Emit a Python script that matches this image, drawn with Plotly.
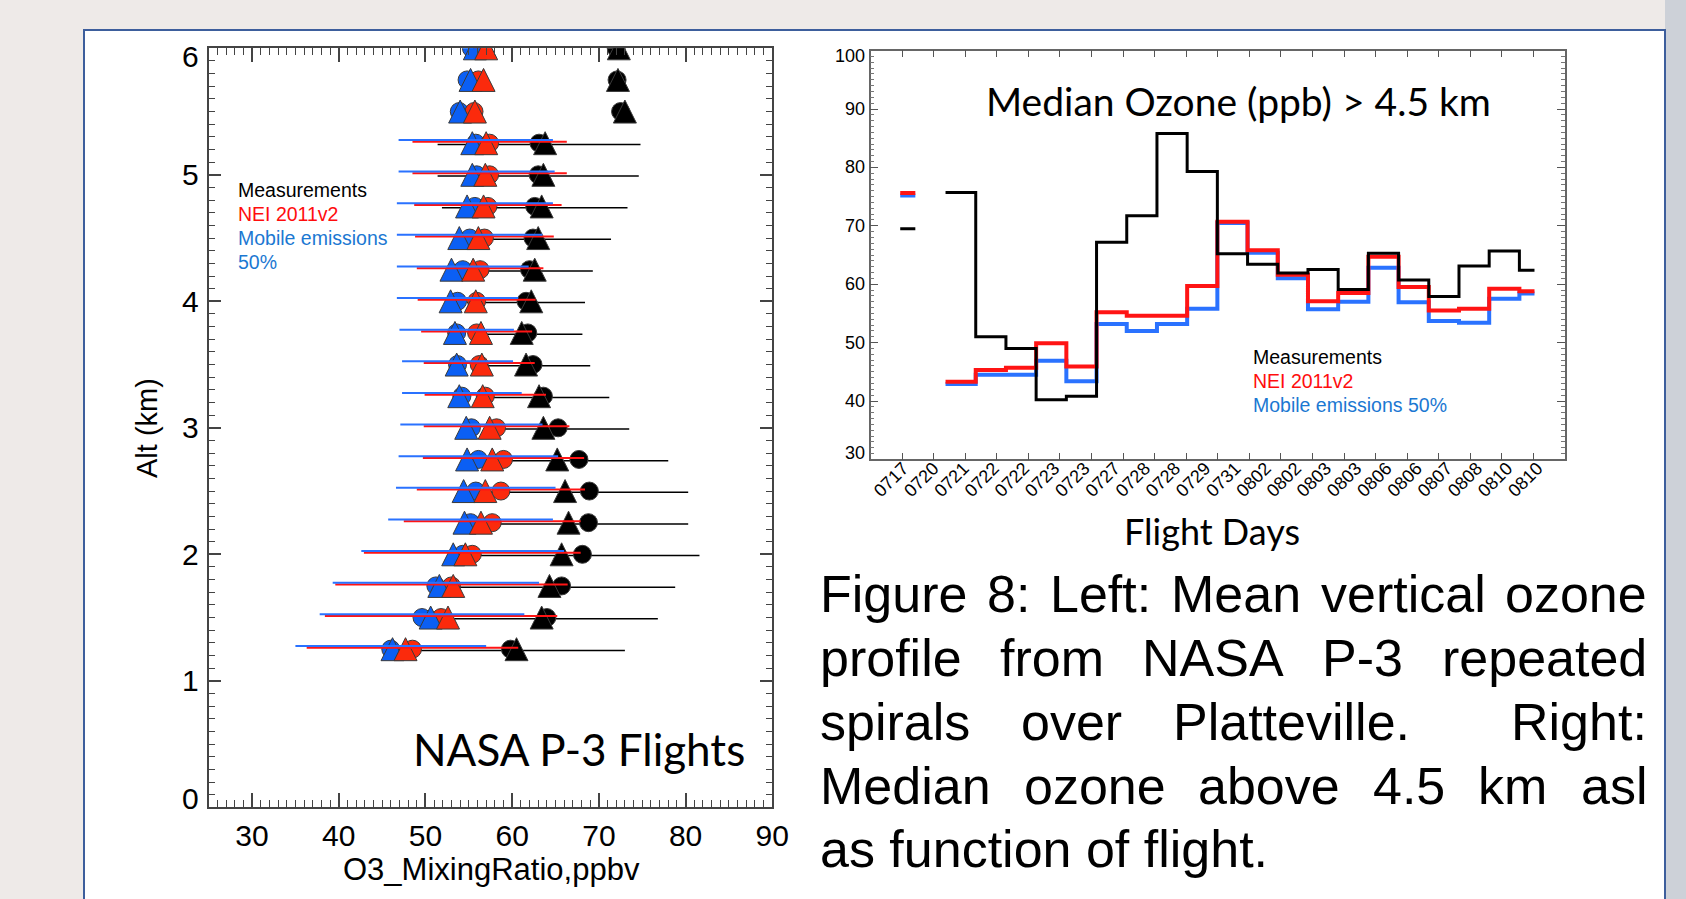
import re
import plotly.graph_objects as go

W, H = 1686, 899


def fx(p):
    return p / W


def fy(p):
    return 1 - p / H


HELV = "Liberation Sans, Arial, Helvetica, sans-serif"
CALI = "Lato, Carlito, Calibri, sans-serif"

# ---------------- Left panel data: mean vertical ozone profile ----------------
altitude_km = [6.0, 5.75, 5.5, 5.25, 5.0, 4.75, 4.5, 4.25, 4.0, 3.75,
               3.5, 3.25, 3.0, 2.75, 2.5, 2.25, 2.0, 1.75, 1.5, 1.25]
meas_mean = [72.0, 72.1, 72.5, 63.1, 63.0, 62.6, 62.4, 62.0, 61.6, 61.8,
             62.4, 63.6, 65.3, 67.7, 68.9, 68.8, 68.1, 65.7, 64.0, 59.8]
meas_median = [72.3, 72.2, 73.0, 63.8, 63.6, 63.4, 63.0, 62.6, 62.2, 61.1,
               61.6, 63.1, 63.6, 65.2, 66.1, 66.5, 65.7, 64.3, 63.4, 60.5]
meas_std = [None, None, None, 11.7, 11.6, 10.7, 9.0, 7.3, 6.8, 6.3,
            6.6, 7.6, 8.2, 10.3, 11.4, 11.5, 13.5, 13.1, 12.8, 13.2]
nei_mean = [56.6, 56.1, 55.6, 57.4, 57.4, 57.2, 56.8, 56.3, 55.9, 55.9,
            56.2, 56.9, 58.2, 59.0, 58.7, 57.7, 55.4, 53.0, 51.8, 48.5]
nei_median = [57.0, 56.7, 55.7, 57.0, 56.9, 56.7, 56.1, 55.5, 55.8, 56.4,
              56.5, 56.6, 57.4, 57.7, 56.9, 56.4, 54.6, 53.2, 52.6, 47.7]
nei_std = [None, None, None, 8.9, 8.9, 8.5, 8.0, 7.3, 6.8, 6.4,
           6.4, 7.0, 8.4, 9.3, 9.7, 10.2, 12.5, 13.4, 13.4, 12.2]
mob_mean = [55.3, 54.8, 53.9, 55.8, 55.9, 55.7, 55.1, 54.3, 53.7, 53.6,
            53.7, 54.2, 55.3, 56.1, 55.8, 55.2, 54.3, 51.2, 49.6, 46.0]
mob_median = [55.7, 55.2, 54.0, 55.4, 55.4, 54.8, 53.9, 53.0, 52.9, 53.4,
              53.6, 53.9, 54.7, 54.8, 54.4, 54.5, 53.2, 51.6, 50.6, 46.2]
mob_std = [None, None, None, 8.9, 9.0, 9.0, 8.4, 7.6, 7.0, 6.6,
           6.4, 6.9, 8.2, 9.2, 9.2, 9.5, 11.7, 11.9, 11.8, 11.0]

left_xticks = [30, 40, 50, 60, 70, 80, 90]
left_yticks = [0, 1, 2, 3, 4, 5, 6]

# ---------------- Right panel data: median ozone above 4.5 km ----------------
flight_days = ["0717", "0720", "0721", "0722", "0722", "0723", "0723", "0727",
               "0728", "0728", "0729", "0731", "0802", "0802", "0803", "0803",
               "0806", "0806", "0807", "0808", "0810", "0810"]
meas_o3 = [69.5, None, 75.7, 51.0, 49.0, 40.2, 40.8, 67.2, 71.7, 85.8, 79.3,
           65.2, 63.4, 61.9, 62.5, 59.1, 65.3, 60.7, 57.9, 63.1, 65.7, 62.4]
nei_o3 = [75.6, None, 43.3, 45.3, 45.7, 49.9, 45.9, 55.2, 54.6, 54.6, 59.7,
          70.7, 65.8, 61.6, 57.1, 58.5, 64.7, 59.5, 55.5, 55.8, 59.2, 58.8]
mob_o3 = [75.2, None, 42.9, 44.5, 44.5, 46.9, 43.4, 53.2, 52.0, 53.2, 55.8,
          70.5, 65.4, 61.0, 55.7, 57.0, 62.8, 56.9, 53.7, 53.4, 57.5, 58.4]
right_yticks = [30, 40, 50, 60, 70, 80, 90, 100]

# ---------------- colours / styles ----------------
RED = "#fb2a0c"
BLUE = "#0b5ff4"
RED_LINE = "#ff1414"
BLUE_LINE = "#2a72ff"
LEG_BLUE = "#1b78d2"

# layout geometry (pixels)
L_X0, L_X1, L_Y0, L_Y1 = 208.7, 772.3, 48.3, 807.3
R_X0, R_X1, R_Y0, R_Y1 = 870.6, 1565.0, 50.6, 459.4
PX_PER_KM = (L_Y1 - L_Y0) / 6.0
TRI = 23
CIRC = 18
tri_lift = (TRI / 2.0) / PX_PER_KM

fig = go.Figure()


def hbars(mean, std, alt, dy):
    xs, ys = [], []
    for m, s, a in zip(mean, std, alt):
        if s is None:
            continue
        xs += [m - s, m + s, None]
        ys += [a + dy, a + dy, None]
    return xs, ys


def add_bar(mean, std, color, dy, width):
    xs, ys = hbars(mean, std, altitude_km, dy)
    fig.add_trace(go.Scatter(x=xs, y=ys, mode="lines", line=dict(color=color, width=width),
                             xaxis="x", yaxis="y", showlegend=False, hoverinfo="skip"))


# black bars under markers
add_bar(meas_mean, meas_std, "#000000", -0.01, 1.6)

# circles (mean)
for vals, col in [(mob_mean, BLUE), (nei_mean, RED), (meas_mean, "#000000")]:
    fig.add_trace(go.Scatter(x=vals, y=altitude_km, mode="markers",
                             marker=dict(symbol="circle", size=CIRC, color=col,
                                         line=dict(color="#3a3a3a", width=1)),
                             xaxis="x", yaxis="y", showlegend=False))
# triangles (median)
for vals, col in [(mob_median, BLUE), (nei_median, RED), (meas_median, "#000000")]:
    fig.add_trace(go.Scatter(x=vals, y=[a + tri_lift for a in altitude_km], mode="markers",
                             marker=dict(symbol="arrow-up", size=TRI, color=col,
                                         line=dict(color="#3a3a3a", width=1)),
                             xaxis="x", yaxis="y", showlegend=False))

add_bar(nei_mean, nei_std, RED_LINE, 0.012, 2)
add_bar(mob_mean, mob_std, BLUE_LINE, 0.026, 2)


# ---------------- right panel: histogram-style steps ----------------
def steps(vals):
    n = len(vals)
    xs, ys = [], []
    for i, v in enumerate(vals):
        if v is None:
            xs.append(None)
            ys.append(None)
            continue
        left = i - 0.5 if i > 0 else i
        right = i + 0.5 if i < n - 1 else i
        xs += [left, right]
        ys += [v, v]
    return xs, ys


for vals, col, w in [(mob_o3, BLUE_LINE, 4), (nei_o3, RED_LINE, 4), (meas_o3, "#000000", 3)]:
    xs, ys = steps(vals)
    fig.add_trace(go.Scatter(x=xs, y=ys, mode="lines", line=dict(color=col, width=w),
                             xaxis="x3", yaxis="y2", showlegend=False, hoverinfo="skip"))
fig.add_trace(go.Scatter(x=[None], y=[None], xaxis="x2", yaxis="y2", showlegend=False))

n_days = len(flight_days)
r_lo, r_hi = -0.981, n_days + 0.01
tick_step = (r_hi - r_lo) / n_days
tick_marks = [r_lo + k * tick_step for k in range(1, n_days)]

axis_common = dict(showgrid=False, zeroline=False, showline=True, automargin=False)

fig.update_layout(
    width=W, height=H, margin=dict(l=0, r=0, t=0, b=0, pad=0, autoexpand=False),
    paper_bgcolor="#eeeae8", plot_bgcolor="rgba(0,0,0,0)",
    showlegend=False,
    xaxis=dict(domain=[fx(L_X0), fx(L_X1)], range=[25, 90], anchor="y",
               tickvals=left_xticks, ticks="inside", ticklen=14, tickwidth=1.5, tickcolor="#444",
               minor=dict(dtick=1, tick0=25, ticks="inside", ticklen=7, tickcolor="#444", tickwidth=1),
               linecolor="#444", linewidth=2, mirror="ticks",
               tickfont=dict(family=HELV, size=30, color="black"), ticklabelstandoff=1,
               **axis_common),
    yaxis=dict(domain=[fy(L_Y1), fy(L_Y0)], range=[0, 6], anchor="x",
               tickvals=left_yticks, ticks="inside", ticklen=12, tickwidth=1.5, tickcolor="#444",
               minor=dict(dtick=0.1, tick0=0, ticks="inside", ticklen=6, tickcolor="#444", tickwidth=1),
               linecolor="#444", linewidth=2, mirror="ticks", showticklabels=False,
               **axis_common),
    xaxis2=dict(domain=[fx(R_X0), fx(R_X1)], range=[r_lo, r_hi], anchor="y2",
                tickvals=tick_marks, ticks="inside", ticklen=7, tickcolor="#555", tickwidth=1,
                showticklabels=False, linecolor="#666", linewidth=1.5, mirror="ticks",
                **axis_common),
    xaxis3=dict(overlaying="x2", anchor="y2", side="bottom", range=[r_lo, r_hi],
                tickvals=list(range(n_days)), ticktext=flight_days, ticks="",
                showline=False, showgrid=False, zeroline=False, automargin=False, tickangle=-45,
                tickfont=dict(family=HELV, size=18, color="black"),
                ticklabelstandoff=-6, ticklabelshift=3),
    yaxis2=dict(domain=[fy(R_Y1), fy(R_Y0)], range=[30, 100], anchor="x2",
                tickvals=right_yticks, ticks="inside", ticklen=8, tickcolor="#555", tickwidth=1,
                minor=dict(dtick=1, tick0=30, ticks="inside", ticklen=4, tickcolor="#777", tickwidth=1),
                linecolor="#666", linewidth=1.5, mirror="ticks", showticklabels=False,
                **axis_common),
)

# background box
fig.add_shape(type="rect", xref="paper", yref="paper", x0=fx(1665), x1=1.0, y0=0, y1=fy(0),
              fillcolor="#cdd1d8", line=dict(width=0), layer="below")
fig.add_shape(type="rect", xref="paper", yref="paper", x0=fx(84), x1=fx(1665), y0=fy(905), y1=fy(30),
              fillcolor="white", line=dict(color="#3d5e9c", width=2), layer="below")

annots = []


def txt(text, x, y, size, color="black", family=HELV, xanchor="left", yanchor="middle", angle=0):
    annots.append(dict(text=text, x=fx(x), y=fy(y), xref="paper", yref="paper",
                       xanchor=xanchor, yanchor=yanchor, showarrow=False, textangle=angle,
                       font=dict(family=family, size=size, color=color)))


# y tick labels (end labels nudged inward, as in the IDL original)
for v in left_yticks:
    shift = -8 if v == left_yticks[-1] else (9 if v == left_yticks[0] else 0)
    annots.append(dict(text=str(v), x=fx(L_X0 - 8), xref="paper", y=v, yref="y",
                       xanchor="right", yanchor="middle", yshift=shift, showarrow=False,
                       font=dict(family=HELV, size=30, color="black")))
for v in right_yticks:
    shift = -5 if v == right_yticks[-1] else (6 if v == right_yticks[0] else 0)
    annots.append(dict(text=str(v), x=fx(R_X0 - 4), xref="paper", y=v, yref="y2",
                       xanchor="right", yanchor="middle", yshift=shift, showarrow=False,
                       font=dict(family=HELV, size=18, color="black")))

# left-panel texts
txt("Alt (km)", 147, 428, 29, angle=-90, xanchor="center")
txt("O3_MixingRatio,ppbv", 491, 869, 31, xanchor="center")
txt("NASA P-3 Flights", 579, 749, 44, family=CALI, xanchor="center")
txt("Measurements", 236, 190, 19.5)
txt("NEI 2011v2", 236, 214, 19.5, color="#ff0d0d")
txt("Mobile emissions", 236, 238, 19.5, color=LEG_BLUE)
txt("50%", 236, 262, 19.5, color=LEG_BLUE)

# right-panel texts
txt("Median Ozone (ppb) > 4.5 km", 1238, 101, 39, family=CALI, xanchor="center")
txt("Flight Days", 1212, 531, 36, family=CALI, xanchor="center")
txt("Measurements", 1251, 357, 19.5)
txt("NEI 2011v2", 1251, 381, 19.5, color="#ff0d0d")
txt("Mobile emissions 50%", 1251, 405, 19.5, color=LEG_BLUE)

# caption, justified like the source
AW = {' ': 278, 'a': 556, 'b': 556, 'c': 500, 'd': 556, 'e': 556, 'f': 278, 'g': 556, 'h': 556,
      'i': 222, 'j': 222, 'k': 500, 'l': 222, 'm': 833, 'n': 556, 'o': 556, 'p': 556, 'q': 556,
      'r': 333, 's': 500, 't': 278, 'u': 556, 'v': 500, 'w': 722, 'x': 500, 'y': 500, 'z': 500,
      'A': 667, 'B': 667, 'C': 722, 'D': 722, 'E': 667, 'F': 611, 'G': 778, 'H': 722, 'I': 278,
      'J': 500, 'K': 667, 'L': 556, 'M': 833, 'N': 722, 'O': 778, 'P': 667, 'Q': 778, 'R': 722,
      'S': 667, 'T': 611, 'U': 722, 'V': 667, 'W': 944, 'X': 667, 'Y': 667, 'Z': 611,
      '.': 278, ':': 278, '-': 333, ',': 278}
for d in "0123456789":
    AW[d] = 556


def wlen(s, size):
    return sum(AW.get(c, 556) for c in s) * size / 1000.0


caption_lines = ["Figure 8: Left: Mean vertical ozone",
                 "profile from NASA P-3 repeated",
                 "spirals over Platteville.  Right:",
                 "Median ozone above 4.5 km asl",
                 "as function of flight."]
CAP_SIZE = 52
CAP_X0, CAP_X1 = 818, 1645
cap_centers = [594, 658, 722, 786, 849]
for k, (line, yc) in enumerate(zip(caption_lines, cap_centers)):
    if k == len(caption_lines) - 1:
        txt(line, CAP_X0, yc, CAP_SIZE)
        continue
    toks = re.split(r"( +)", line)
    words, gaps = toks[0::2], toks[1::2]
    total = sum(wlen(w, CAP_SIZE) for w in words)
    nsp = sum(len(g) for g in gaps)
    sp = (CAP_X1 - CAP_X0 - total) / nsp
    x = CAP_X0
    for i, w in enumerate(words):
        txt(w, x, yc, CAP_SIZE)
        x += wlen(w, CAP_SIZE)
        if i < len(gaps):
            x += len(gaps[i]) * sp

fig.update_layout(annotations=annots)
fig.write_html("out.html")
